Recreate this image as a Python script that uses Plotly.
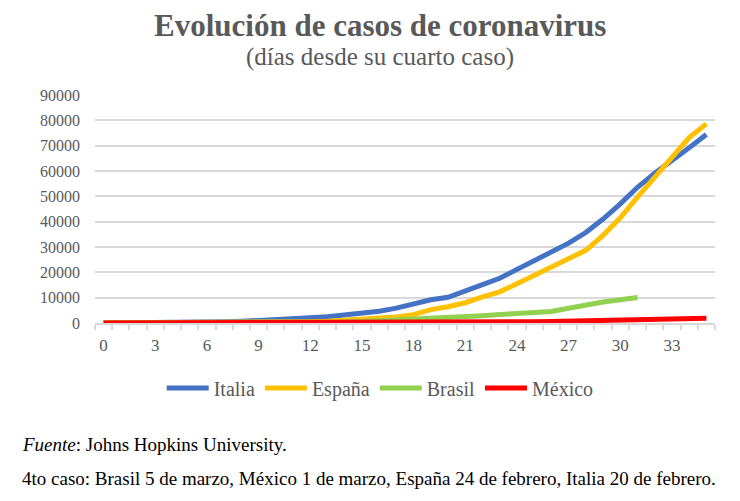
import plotly.graph_objects as go

# ---- data ----
days_italia = list(range(0, 36))
italia = [3, 3, 20, 62, 155, 229, 322, 453, 655, 888, 1128, 1694, 2036, 2502, 3089, 3858,
          4636, 5883, 7375, 9172, 10149, 12462, 15113, 17660, 21157, 24747, 27980, 31506,
          35713, 41035, 47021, 53578, 59138, 63927, 69176, 74386]

days_espana = list(range(0, 36))
espana = [2, 6, 13, 15, 32, 45, 84, 120, 165, 222, 259, 400, 500, 673, 1073, 1450, 1850,
          2400, 3300, 5300, 6400, 8000, 10300, 12300, 15500, 18800, 22300, 25700, 28700,
          34600, 41500, 49700, 57500, 65700, 73200, 78600]

days_brasil = list(range(0, 32))
brasil = [4, 4, 13, 13, 20, 25, 31, 38, 52, 121, 151, 200, 234, 291, 428, 621, 904, 1128,
          1546, 1924, 2150, 2554, 2900, 3350, 3750, 4256, 4579, 5800, 7100, 8300, 9200, 10100]

days_mexico = list(range(0, 36))
mexico = [4, 5, 5, 5, 5, 5, 6, 6, 7, 7, 7, 8, 12, 26, 41, 53, 82, 93, 118, 164, 203, 251,
          316, 367, 405, 475, 585, 717, 848, 993, 1094, 1215, 1378, 1510, 1688, 1890]

series_names = ["Italia", "España", "Brasil", "México"]
series_colors = ["#4472C4", "#FFC000", "#92D050", "#FF0000"]

x_tickvals = list(range(0, 34, 3))
y_tickvals = list(range(0, 90001, 10000))

title_text = "Evolución de casos de coronavirus"
subtitle_text = "(días desde su cuarto caso)"
source_text = "<i>Fuente</i>: Johns Hopkins University."
note_text = "4to caso: Brasil 5 de marzo, México 1 de marzo, España 24 de febrero, Italia 20 de febrero."

FONT = "Liberation Serif"
GRAY = "#595959"

fig = go.Figure()
for xs, ys, name, color in zip(
        [days_italia, days_espana, days_brasil, days_mexico],
        [italia, espana, brasil, mexico], series_names, series_colors):
    fig.add_trace(go.Scatter(x=xs, y=ys, mode="lines", name=name,
                             line=dict(color=color, width=5, shape="linear"),
                             hoverinfo="skip"))

# page body has an 8px margin, so the figure is drawn 8px smaller and offset
fig.update_layout(
    width=732, height=493,
    margin=dict(l=87, r=25, t=87, b=178),
    paper_bgcolor="white", plot_bgcolor="white",
    font=dict(family=FONT, color=GRAY, size=16),
    showlegend=True,
    legend=dict(orientation="h", x=0.46, xanchor="center", y=-0.285, yanchor="middle",
                font=dict(family=FONT, size=20, color=GRAY), itemwidth=42,
                tracegroupgap=0, traceorder="normal"),
)

fig.update_xaxes(
    range=[-0.5, 35.5], tickmode="array", tickvals=x_tickvals,
    ticktext=[str(v) for v in x_tickvals], ticks="", showgrid=False,
    showline=True, linecolor="#d9d9d9", linewidth=1.5, zeroline=False,
    tickfont=dict(family=FONT, size=17, color=GRAY), ticklabelstandoff=6,
    minor=dict(dtick=1, tick0=0.5, ticks="outside", ticklen=5, tickcolor="#d9d9d9",
               tickwidth=1.5, showgrid=False),
)
fig.update_yaxes(
    range=[0, 90000], tickmode="array", tickvals=y_tickvals,
    ticktext=[str(v) for v in y_tickvals], showgrid=True, gridcolor="#d9d9d9",
    gridwidth=1.5, zeroline=False, showline=False, ticks="",
    tickfont=dict(family=FONT, size=16, color=GRAY), ticklabelstandoff=14,
)

fig.add_annotation(text="<b>" + title_text + "</b>", xref="paper", yref="paper",
                   x=0.46, y=1.305, xanchor="center", yanchor="middle", showarrow=False,
                   font=dict(family=FONT, size=31, color=GRAY))
fig.add_annotation(text=subtitle_text, xref="paper", yref="paper",
                   x=0.46, y=1.165, xanchor="center", yanchor="middle", showarrow=False,
                   font=dict(family=FONT, size=25, color=GRAY))
fig.add_annotation(text=source_text, xref="paper", yref="paper",
                   x=-0.121, y=-0.535, xanchor="left", yanchor="middle", showarrow=False,
                   font=dict(family=FONT, size=19, color="black"))
fig.add_annotation(text=note_text, xref="paper", yref="paper",
                   x=-0.121, y=-0.68, xanchor="left", yanchor="middle", showarrow=False,
                   font=dict(family=FONT, size=19, color="black"))

fig.write_html("out.html")
